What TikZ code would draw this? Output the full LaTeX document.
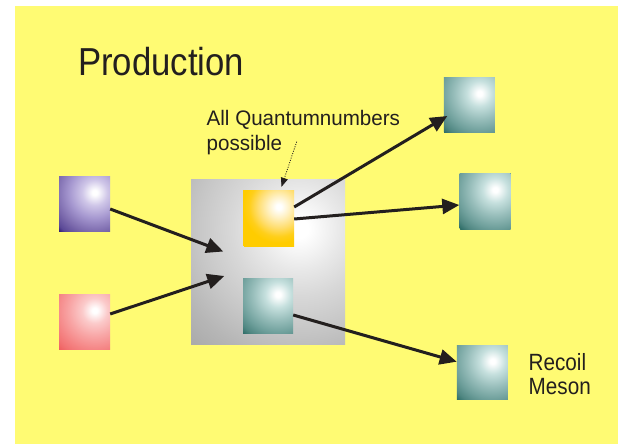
\documentclass[tikz,border=0pt]{standalone}
\usepackage{fontspec}
\setmainfont{Liberation Sans}
\usetikzlibrary{arrows.meta,calc}
\definecolor{bgyellow}{RGB}{255,251,115}
\definecolor{ink}{RGB}{35,31,30}
\definecolor{purA}{HTML}{CFC6E8}\definecolor{purB}{HTML}{A698D0}\definecolor{purC}{HTML}{7866AA}\definecolor{purD}{HTML}{5A4896}\definecolor{purE}{HTML}{2E1A70}
\definecolor{pinA}{HTML}{FBCACA}\definecolor{pinB}{HTML}{F8A6A6}\definecolor{pinC}{HTML}{F58686}\definecolor{pinD}{HTML}{F27272}\definecolor{pinE}{HTML}{EE5E5E}
\definecolor{teaA}{HTML}{C6E0DE}\definecolor{teaB}{HTML}{98BEBB}\definecolor{teaC}{HTML}{6E9F9B}\definecolor{teaD}{HTML}{508782}\definecolor{teaE}{HTML}{2A6A64}
\definecolor{oraA}{HTML}{FFF1C4}\definecolor{oraB}{HTML}{FFDD6C}\definecolor{oraC}{HTML}{FFCF1A}\definecolor{oraE}{HTML}{FFCC00}
\definecolor{graA}{HTML}{E8E8E8}\definecolor{graB}{HTML}{D8D8D8}\definecolor{graC}{HTML}{C6C6C6}\definecolor{graD}{HTML}{B6B6B6}\definecolor{graE}{HTML}{A9A9A9}
\pgfdeclareradialshading{purshade}{\pgfpoint{0bp}{0bp}}{color(0bp)=(white); color(1.2bp)=(white); color(6bp)=(purA); color(12bp)=(purB); color(19bp)=(purC); color(23bp)=(purD); color(25bp)=(purE)}
\pgfdeclareradialshading{pinshade}{\pgfpoint{0bp}{0bp}}{color(0bp)=(white); color(1.2bp)=(white); color(6bp)=(pinA); color(12bp)=(pinB); color(18bp)=(pinC); color(22bp)=(pinD); color(25bp)=(pinE)}
\pgfdeclareradialshading{teashade}{\pgfpoint{0bp}{0bp}}{color(0bp)=(white); color(1.2bp)=(white); color(6bp)=(teaA); color(12bp)=(teaB); color(18bp)=(teaC); color(22bp)=(teaD); color(25bp)=(teaE)}
\pgfdeclareradialshading{orashade}{\pgfpoint{0bp}{0bp}}{color(0bp)=(white); color(1.2bp)=(white); color(5bp)=(oraA); color(10bp)=(oraB); color(14bp)=(oraC); color(17bp)=(oraE); color(25bp)=(oraE)}
\pgfdeclareradialshading{grashade}{\pgfpoint{0bp}{0bp}}{color(0bp)=(white); color(1.5bp)=(white); color(6.5bp)=(graA); color(10.5bp)=(graB); color(16bp)=(graC); color(20.5bp)=(graD); color(25bp)=(graE)}
\begin{document}
\begin{tikzpicture}[x=1pt,y=-1pt,
  shbox/.style n args={5}{draw=none, fill=#2, inner sep=0pt, minimum width=#3, minimum height=#4,
    path picture={\shade[shading=#1] ($(path picture bounding box.south west)!0.7!(path picture bounding box.north east)$) circle (#5);}},
  flow/.style={line width=3pt, draw=ink, -{Triangle[length=17pt,width=15pt]}},
  note/.style={line width=0.8pt, draw=ink, dash pattern=on 1pt off 1.4pt, -{Triangle[length=9pt,width=7pt]}},
  label/.style={anchor=base west, inner sep=0pt, text=ink}]
\useasboundingbox (0,0) rectangle (618,445);
\fill[white] (0,0) rectangle (618,445);
\fill[bgyellow] (15,6) rectangle (618,444);
% boxes
\node[shbox={grashade}{graE}{154pt}{165pt}{160pt}] (core) at (268,261.5) {};
\node[shbox={purshade}{purE}{51pt}{55pt}{53pt}] (purple) at (84.5,203.5) {};
\node[shbox={pinshade}{pinE}{51pt}{55pt}{53pt}] (pink) at (84.5,321.5) {};
\node[shbox={orashade}{oraE}{51pt}{56pt}{53pt}] (orange) at (268.5,218) {};
\node[shbox={teashade}{teaE}{50pt}{55pt}{53pt}] (inner) at (268,305.5) {};
\node[shbox={teashade}{teaE}{51pt}{55pt}{53pt}] (out1) at (469.4,104.5) {};
\node[shbox={teashade}{teaE}{51pt}{56pt}{53pt}] (out2) at (485,201) {};
\node[shbox={teashade}{teaE}{51pt}{54pt}{53pt}] (out3) at (482.4,372) {};
% texts
\node[label, font=\fontsize{39}{40}\selectfont] (title) at (78,75) {\scalebox{0.89}[1]{Production}};
\node[label, font=\fontsize{21}{25}\selectfont] (qn) at (206.5,125) {\scalebox{0.98}[1]{\begin{tabular}[t]{@{}l@{}}All Quantumnumbers\\possible\end{tabular}}};
\node[label, font=\fontsize{23.5}{24}\selectfont] (recoil) at (528.5,370) {\scalebox{0.88}[1]{\begin{tabular}[t]{@{}l@{}}Recoil\\Meson\end{tabular}}};
% connectors
\coordinate (inA) at (223.3,251.5);
\coordinate (inB) at (224.3,276);
\coordinate (qstart) at (296.7,141.7);
\draw[flow] ([yshift=-5.5pt]purple.east) -- (inA);
\draw[flow] ([yshift=7.5pt]pink.east) -- (inB);
\draw[flow] ([yshift=11pt]orange.east) -- ([xshift=3.6pt,yshift=-11.5pt]out1.west);
\draw[flow] ([yshift=-1pt]orange.east) -- ([yshift=-4pt]out2.west);
\draw[flow] ([yshift=-9.5pt]inner.east) -- ([yshift=10.3pt]out3.west);
\draw[note] (qstart) -- ([xshift=13pt,yshift=3pt]orange.north);
\end{tikzpicture}
\end{document}
